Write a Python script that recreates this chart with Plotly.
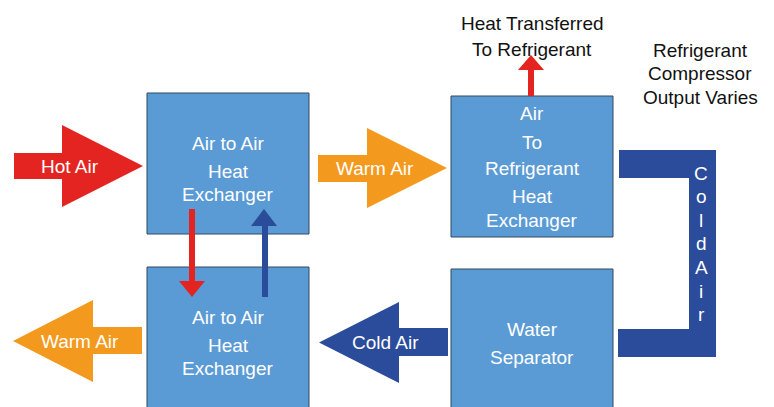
import plotly.graph_objects as go

# ---- text content ----
box_labels = [
    ["Air to Air", "Heat", "Exchanger"],
    ["Air to Air", "Heat", "Exchanger"],
    ["Air", "To", "Refrigerant", "Heat", "Exchanger"],
    ["Water", "Separator"],
]
arrow_labels = ["Hot Air", "Warm Air", "Cold Air", "Warm Air"]
top_note = ["Heat Transferred", "To Refrigerant"]
side_note = ["Refrigerant", "Compressor", "Output Varies"]
vertical_label = "ColdAir"

# ---- styles ----
BOX = "#5B9BD5"
EDGE = "#34495E"
RED = "#E42421"
ORANGE = "#F39A1E"
NAVY = "#2B4B9B"
FONT = "Arial, Liberation Sans, sans-serif"
FS = 19

W, H = 774, 407
OFF = 8  # page body margin compensation
fig = go.Figure()
shapes = []
ann = []

def rect(x0, y0, x1, y1, fill, line=None):
    shapes.append(dict(type="rect", xref="x", yref="y", x0=x0, x1=x1, y0=y0, y1=y1,
                       fillcolor=fill, line=dict(color=line or fill, width=1 if line else 0),
                       layer="above"))

def poly(pts, fill):
    p = "M " + " L ".join(f"{x},{y}" for x, y in pts) + " Z"
    shapes.append(dict(type="path", xref="x", yref="y", path=p, fillcolor=fill,
                       line=dict(color=fill, width=0), layer="above"))

def text(x, y, s, color="white", size=FS):
    ann.append(dict(x=x, y=y, xref="x", yref="y", text=s, showarrow=False,
                    font=dict(family=FONT, size=size, color=color),
                    xanchor="center", yanchor="middle"))

# boxes: (x0, y0, x1, y1, line-centres)
boxes = [
    (147, 93, 309, 234, [143, 171, 194]),
    (147, 267, 309, 420, [317, 345, 368]),
    (451, 96, 613, 237, [113, 142, 168, 196, 220]),
    (451, 269, 613, 420, [329, 357]),
]
for (x0, y0, x1, y1, ys), labels in zip(boxes, box_labels):
    rect(x0, y0, x1, y1, BOX, EDGE)
    cx = (x0 + x1) / 2
    for y, s in zip(ys, labels):
        text(cx, y, s)

def h_arrow(xs, xb, xt, sy0, sy1, hy0, hy1, color):
    yc = (hy0 + hy1) / 2
    poly([(xs, sy0), (xb, sy0), (xb, hy0), (xt, yc), (xb, hy1), (xb, sy1), (xs, sy1)], color)

h_arrow(14, 62, 143, 153, 179, 125, 207, RED)
text(70, 166, arrow_labels[0])
h_arrow(318, 367, 447, 155, 182, 128, 208, ORANGE)
text(375, 168, arrow_labels[1])
h_arrow(448, 399, 319, 328, 356, 302, 383, NAVY)
text(385, 342, arrow_labels[2])
h_arrow(142, 93, 13, 327, 354, 300, 382, ORANGE)
text(80, 341, arrow_labels[3])

def v_arrow(x0, x1, ys, yb, yt, hx0, hx1, color):
    xc = (hx0 + hx1) / 2
    poly([(x0, ys), (x1, ys), (x1, yb), (hx1, yb), (xc, yt), (hx0, yb), (x0, yb)], color)

v_arrow(528, 534, 96, 70, 55, 518, 544, RED)
v_arrow(189, 195, 209, 281, 297, 179, 205, RED)
v_arrow(262, 268, 297, 226, 209, 251, 277, NAVY)

# cold-air bracket
rect(619, 150, 716, 178, NAVY)
rect(689, 150, 716, 357, NAVY)
rect(618, 329, 716, 357, NAVY)
for i, ch in enumerate(vertical_label):
    text(701, 173 + i * 23.6, ch)

# notes
for i, s in enumerate(top_note):
    text(532, 23 + i * 26, s, color="#111111")
for i, s in enumerate(side_note):
    text(700, 50 + i * 23.5, s, color="#111111")

fig.update_layout(
    width=W, height=H, margin=dict(l=0, r=0, t=0, b=0),
    paper_bgcolor="white", plot_bgcolor="white",
    xaxis=dict(range=[OFF, W + OFF], visible=False, fixedrange=True),
    yaxis=dict(range=[H + OFF, OFF], visible=False, fixedrange=True),
    shapes=shapes, annotations=ann, showlegend=False,
)
fig.write_html("out.html")
